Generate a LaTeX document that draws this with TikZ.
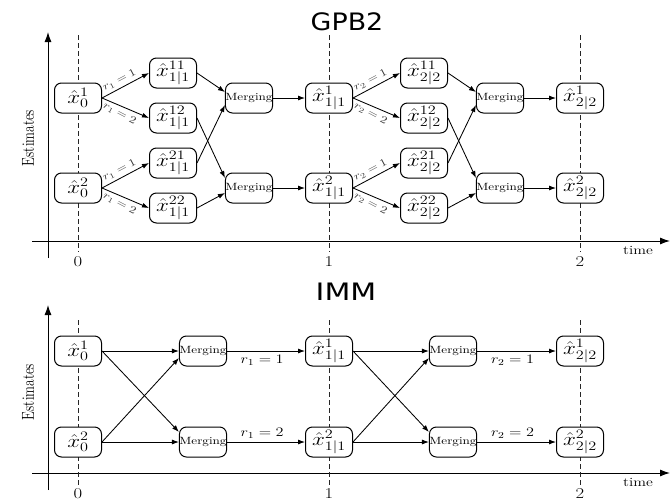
\RequirePackage{fix-cm}
\documentclass[tikz,border=0pt]{standalone}
\usepackage{fontspec}
\usepackage{graphicx}
\newfontfamily\titlefont{DejaVu Sans}
\usetikzlibrary{arrows.meta}

% widen text horizontally
\newcommand\stretchx[1]{\scalebox{1.25}[1]{#1}}

\tikzset{
  est/.style={draw, line width=1pt, rounded corners=7pt, fill=white,
    minimum width=47pt, minimum height=30pt, inner sep=0pt,
    font=\fontsize{18.5}{20}\selectfont},
  merge/.style={est, font=\fontsize{10.5}{12}\selectfont},
  arr/.style={line width=0.85pt, -{Latex[length=7pt,width=5pt]}},
  guide/.style={line width=0.9pt, dash pattern=on 4.5pt off 3.5pt, black!85},
  axis/.style={line width=1pt, -{Latex[length=10pt,width=7pt]}},
  slab/.style={font=\fontsize{10.5}{12}\selectfont, inner sep=3pt, black!80},
  hlab/.style={font=\fontsize{13}{15}\selectfont, inner sep=3.5pt},
  ticklab/.style={font=\fontsize{15}{17}\selectfont, inner sep=0pt},
  axlab/.style={font=\fontsize{12.5}{15}\selectfont, inner sep=0pt},
  ttl/.style={font=\titlefont\fontsize{24}{28}\selectfont, anchor=base, inner sep=0pt},
}

\begin{document}
\begin{tikzpicture}[x=1pt, y=-1pt]
\fill[white] (0,0) rectangle (670,501);
\useasboundingbox (0,0) rectangle (670,501);

% ---------------- GPB2 ----------------
\node[ttl] (title1) at (347,30) {\scalebox{1.12}[1]{GPB2}};

\draw[axis] (48,258) -- (48,32);
\draw[axis] (32,241) -- (670,241);
\foreach \t in {78,329,580} \draw[guide] (\t,35) -- (\t,252);
\node[ticklab] (tk10) at (78,262) {\stretchx{0}};
\node[ticklab] (tk11) at (329,262) {\stretchx{1}};
\node[ticklab] (tk12) at (580,262) {\stretchx{2}};
\node[axlab] (time1) at (638,250) {\stretchx{time}};
\node[axlab, rotate=90, font=\fontsize{13.3}{15}\selectfont] (est1) at (28,138) {\scalebox{1}[1.3]{Estimates}};

\node[est] (A1) at (78,98) {\stretchx{$\hat{x}_0^1$}};
\node[est] (A2) at (78,188) {\stretchx{$\hat{x}_0^2$}};
\node[est] (B11) at (173,73) {\stretchx{$\hat{x}^{11}_{1|1}$}};
\node[est] (B12) at (173,118) {\stretchx{$\hat{x}^{12}_{1|1}$}};
\node[est] (B21) at (173,163) {\stretchx{$\hat{x}^{21}_{1|1}$}};
\node[est] (B22) at (173,208) {\stretchx{$\hat{x}^{22}_{1|1}$}};
\node[merge] (M1) at (249,98) {\stretchx{Merging}};
\node[merge] (M2) at (249,188) {\stretchx{Merging}};
\node[est] (C1) at (329,98) {\stretchx{$\hat{x}^{1}_{1|1}$}};
\node[est] (C2) at (329,188) {\stretchx{$\hat{x}^{2}_{1|1}$}};
\node[est] (D11) at (424,73) {\stretchx{$\hat{x}^{11}_{2|2}$}};
\node[est] (D12) at (424,118) {\stretchx{$\hat{x}^{12}_{2|2}$}};
\node[est] (D21) at (424,163) {\stretchx{$\hat{x}^{21}_{2|2}$}};
\node[est] (D22) at (424,208) {\stretchx{$\hat{x}^{22}_{2|2}$}};
\node[merge] (N1) at (500,98) {\stretchx{Merging}};
\node[merge] (N2) at (500,188) {\stretchx{Merging}};
\node[est] (E1) at (580,98) {\stretchx{$\hat{x}^{1}_{2|2}$}};
\node[est] (E2) at (580,188) {\stretchx{$\hat{x}^{2}_{2|2}$}};

\draw[arr] (A1.east) -- node[slab, pos=0.45, above, rotate=28] (la1) {\stretchx{$r_1=1$}} (B11.west);
\draw[arr] (A1.east) -- node[slab, pos=0.45, below, rotate=-28] (la2) {\stretchx{$r_1=2$}} (B12.west);
\draw[arr] (A2.east) -- node[slab, pos=0.45, above, rotate=28] (la3) {\stretchx{$r_1=1$}} (B21.west);
\draw[arr] (A2.east) -- node[slab, pos=0.45, below, rotate=-28] (la4) {\stretchx{$r_1=2$}} (B22.west);

\draw[arr] (B11.east) -- ([yshift=6pt]M1.west);
\draw[arr] (B21.east) -- ([yshift=-7pt]M1.west);
\draw[arr] (B12.east) -- ([yshift=10pt]M2.west);
\draw[arr] (B22.east) -- ([yshift=-5pt]M2.west);
\draw[arr] (M1.east) -- (C1.west);
\draw[arr] (M2.east) -- (C2.west);

\draw[arr] (C1.east) -- node[slab, pos=0.45, above, rotate=28] (lc1) {\stretchx{$r_2=1$}} (D11.west);
\draw[arr] (C1.east) -- node[slab, pos=0.45, below, rotate=-28] (lc2) {\stretchx{$r_2=2$}} (D12.west);
\draw[arr] (C2.east) -- node[slab, pos=0.45, above, rotate=28] (lc3) {\stretchx{$r_2=1$}} (D21.west);
\draw[arr] (C2.east) -- node[slab, pos=0.45, below, rotate=-28] (lc4) {\stretchx{$r_2=2$}} (D22.west);

\draw[arr] (D11.east) -- ([yshift=6pt]N1.west);
\draw[arr] (D21.east) -- ([yshift=-7pt]N1.west);
\draw[arr] (D12.east) -- ([yshift=10pt]N2.west);
\draw[arr] (D22.east) -- ([yshift=-5pt]N2.west);
\draw[arr] (N1.east) -- (E1.west);
\draw[arr] (N2.east) -- (E2.west);

% ---------------- IMM ----------------
\node[ttl] (title2) at (346,300) {\stretchx{IMM}};

\draw[axis] (48,490) -- (48,305);
\draw[axis] (32,473) -- (670,473);
\foreach \t in {78,329,580} \draw[guide] (\t,320) -- (\t,486);
\node[ticklab] (tk20) at (78,494) {\stretchx{0}};
\node[ticklab] (tk21) at (329,494) {\stretchx{1}};
\node[ticklab] (tk22) at (580,494) {\stretchx{2}};
\node[axlab] (time2) at (638,482) {\stretchx{time}};
\node[axlab, rotate=90, font=\fontsize{13.3}{15}\selectfont] (est2) at (28,392) {\scalebox{1}[1.3]{Estimates}};

\node[est] (P1) at (78,351) {\stretchx{$\hat{x}_0^1$}};
\node[est] (P2) at (78,442) {\stretchx{$\hat{x}_0^2$}};
\node[merge] (Q1) at (203,351) {\stretchx{Merging}};
\node[merge] (Q2) at (203,442) {\stretchx{Merging}};
\node[est] (R1) at (329,351) {\stretchx{$\hat{x}^{1}_{1|1}$}};
\node[est] (R2) at (329,442) {\stretchx{$\hat{x}^{2}_{1|1}$}};
\node[merge] (S1) at (453,351) {\stretchx{Merging}};
\node[merge] (S2) at (453,442) {\stretchx{Merging}};
\node[est] (T1) at (580,351) {\stretchx{$\hat{x}^{1}_{2|2}$}};
\node[est] (T2) at (580,442) {\stretchx{$\hat{x}^{2}_{2|2}$}};

\draw[arr] (P1.east) -- (Q1.west);
\draw[arr] (P1.east) -- ([yshift=10pt]Q2.west);
\draw[arr] (P2.east) -- ([yshift=-7pt]Q1.west);
\draw[arr] (P2.east) -- (Q2.west);
\draw[arr] (Q1.east) -- node[hlab, pos=0.45, below] (lq1) {\stretchx{$r_1=1$}} (R1.west);
\draw[arr] (Q2.east) -- node[hlab, pos=0.45, above] (lq2) {\stretchx{$r_1=2$}} (R2.west);

\draw[arr] (R1.east) -- (S1.west);
\draw[arr] (R1.east) -- ([yshift=10pt]S2.west);
\draw[arr] (R2.east) -- ([yshift=-7pt]S1.west);
\draw[arr] (R2.east) -- (S2.west);
\draw[arr] (S1.east) -- node[hlab, pos=0.45, below] (ls1) {\stretchx{$r_2=1$}} (T1.west);
\draw[arr] (S2.east) -- node[hlab, pos=0.45, above] (ls2) {\stretchx{$r_2=2$}} (T2.west);
\end{tikzpicture}
\end{document}
